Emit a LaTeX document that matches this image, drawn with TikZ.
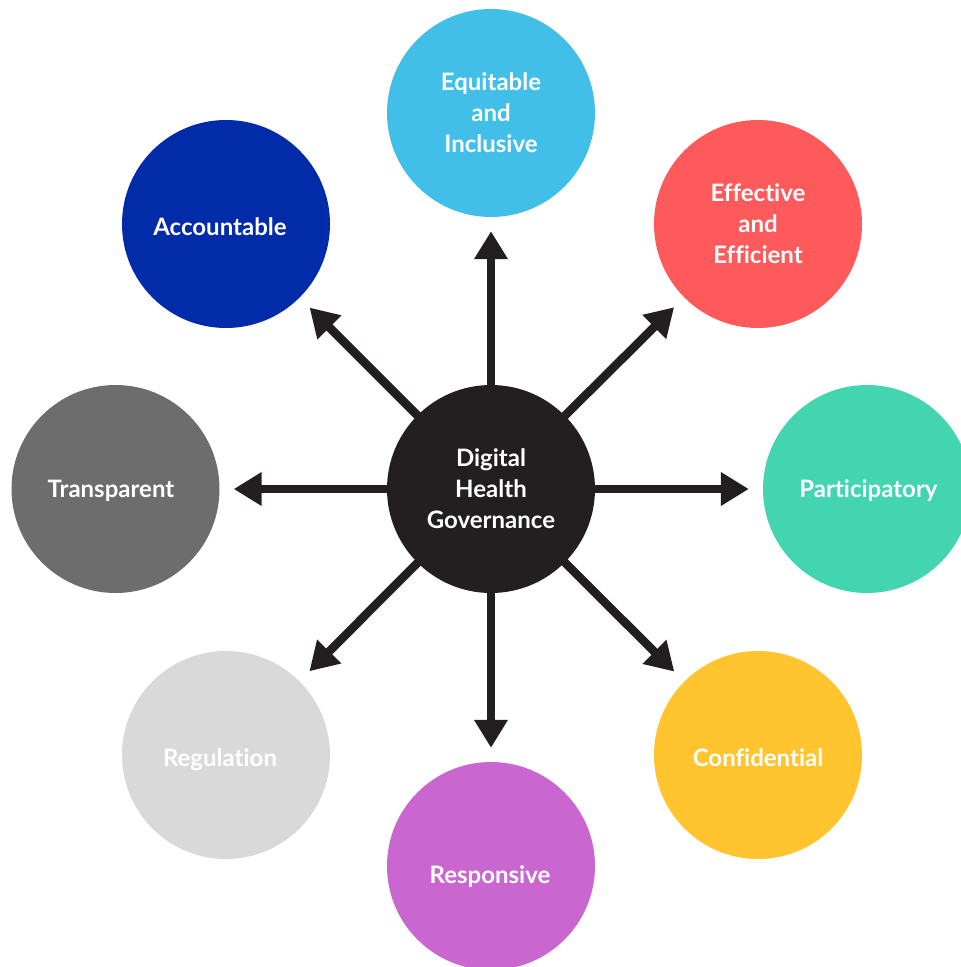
\documentclass[tikz,border=0pt]{standalone}
\usepackage{fontspec}
\setmainfont{Lato}[Ligatures=NoCommon]
\usetikzlibrary{arrows.meta}

\definecolor{hubblack}{HTML}{231F20}
\definecolor{eqblue}{HTML}{41BFE9}
\definecolor{effred}{HTML}{FF5A5B}
\definecolor{partteal}{HTML}{42D5B0}
\definecolor{confyellow}{HTML}{FFC42E}
\definecolor{respviolet}{HTML}{CA66CF}
\definecolor{reggrey}{HTML}{D9D9D9}
\definecolor{transgrey}{HTML}{6D6D6D}
\definecolor{accblue}{HTML}{022BAA}

\begin{document}
\begin{tikzpicture}[x=1pt,y=1pt,yscale=-1,
    petal/.style={circle,minimum size=208pt,inner sep=0pt,text=white,align=center,
      font=\bfseries\fontsize{24}{31}\selectfont},
    word/.style={text=white,inner sep=0pt,text height=17.2pt,text depth=0pt,
      font=\bfseries\fontsize{24}{31}\selectfont},
    spoke/.style={line width=8.5pt,draw=hubblack,-{Triangle[length=28pt,width=32pt]},shorten >=14pt}]
    \useasboundingbox (0,0) rectangle (961,967);
    \clip (0,0) rectangle (961,967);

    % Outer circles
    \node [petal,fill=eqblue]     (equit) at (491,113) {Equitable\\and\\Inclusive};
    \node [petal,fill=effred]     (effic) at (758,224) {Effective\\and\\Efficient};
    \node [petal,fill=partteal,label={[word,xshift=1.5pt]center:Participatory}] (parti) at (867,489) {};
    \node [petal,fill=confyellow,label={[word,yshift=-2.5pt]center:Confidential}] (confi) at (758,755) {};
    \node [petal,fill=respviolet,label={[word,xshift=-1pt,yshift=-9pt]center:Responsive}] (respo) at (491,866) {};
    \node [petal,fill=reggrey,label={[word,xshift=-6pt,yshift=-2.5pt]center:Regulation}] (regul) at (226,755) {};
    \node [petal,fill=transgrey,label={[word,xshift=-4.5pt]center:Transparent}] (trans) at (115.5,489) {};
    \node [petal,fill=accblue,label={[word,xshift=-6pt,yshift=-2.5pt]center:Accountable}] (accou) at (226,224) {};

    % Arrows out of the centre
    \coordinate (mid) at (491,489);
    \foreach \target in {equit,effic,parti,confi,respo,regul,trans,accou}
      \draw [spoke] (mid) -- (\target);

    % Centre circle
    \node [petal,fill=hubblack] (hub) at (mid) {Digital\\Health\\Governance};

\end{tikzpicture}
\end{document}
